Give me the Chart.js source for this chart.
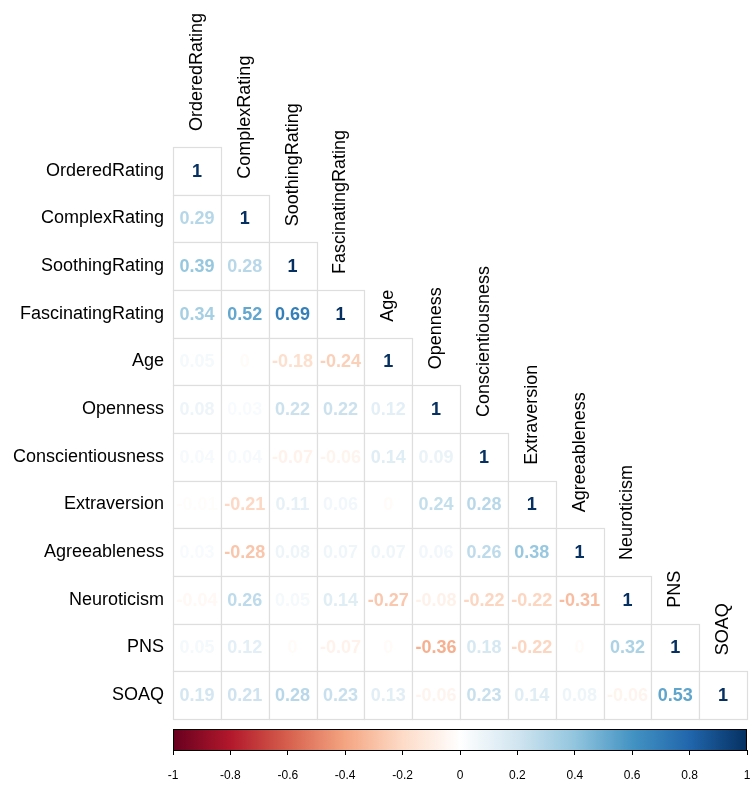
<!DOCTYPE html>
<html>
<head>
<meta charset="utf-8">
<script src="https://cdn.jsdelivr.net/npm/chart.js@4.4.0/dist/chart.umd.min.js"></script>
<style>
  html, body { margin: 0; padding: 0; background: #fff; overflow: hidden; }
  #wrap { width: 750px; height: 787px; }
  canvas { display: block; }
</style>
</head>
<body>
<div id="wrap"><canvas id="corrChart"></canvas></div>
<script>
const variables = ['OrderedRating', 'ComplexRating', 'SoothingRating', 'FascinatingRating', 'Age',
  'Openness', 'Conscientiousness', 'Extraversion', 'Agreeableness', 'Neuroticism', 'PNS', 'SOAQ'];

// lower triangle of the correlation matrix, one row per variable
const rowOrdered = [1];
const rowComplex = [0.29, 1];
const rowSoothing = [0.39, 0.28, 1];
const rowFascinating = [0.34, 0.52, 0.69, 1];
const rowAge = [0.05, 0, -0.18, -0.24, 1];
const rowOpenness = [0.08, 0.03, 0.22, 0.22, 0.12, 1];
const rowConscientiousness = [0.04, 0.04, -0.07, -0.06, 0.14, 0.09, 1];
const rowExtraversion = [-0.01, -0.21, 0.11, 0.06, 0, 0.24, 0.28, 1];
const rowAgreeableness = [0.03, -0.28, 0.08, 0.07, 0.07, 0.06, 0.26, 0.38, 1];
const rowNeuroticism = [-0.04, 0.26, 0.05, 0.14, -0.27, -0.08, -0.22, -0.22, -0.31, 1];
const rowPNS = [0.05, 0.12, 0, -0.07, 0, -0.36, 0.18, -0.22, 0, 0.32, 1];
const rowSOAQ = [0.19, 0.21, 0.28, 0.23, 0.13, -0.06, 0.23, 0.14, 0.08, -0.06, 0.53, 1];

const colorTicks = [-1, -0.8, -0.6, -0.4, -0.2, 0, 0.2, 0.4, 0.6, 0.8, 1];

const corrRows = [rowOrdered, rowComplex, rowSoothing, rowFascinating, rowAge, rowOpenness,
  rowConscientiousness, rowExtraversion, rowAgreeableness, rowNeuroticism, rowPNS, rowSOAQ];

// RdBu palette (corrplot)
const palette = ['#67001F', '#B2182B', '#D6604D', '#F4A582', '#FDDBC7', '#FFFFFF',
  '#D1E5F0', '#92C5DE', '#4393C3', '#2166AC', '#053061'];

function hexToRgb(h) {
  return [parseInt(h.substr(1, 2), 16), parseInt(h.substr(3, 2), 16), parseInt(h.substr(5, 2), 16)];
}

function corrColor(v) {
  if (v === 0) v = -0.025; // zero falls in the faint warm bin
  const t = (v + 1) / 2 * (palette.length - 1);
  const i = Math.min(Math.floor(t), palette.length - 2);
  const f = t - i;
  const a = hexToRgb(palette[i]), b = hexToRgb(palette[i + 1]);
  const c = a.map((x, k) => Math.round(x + (b[k] - x) * f));
  return 'rgb(' + c.join(',') + ')';
}

const cellData = [];
corrRows.forEach((row, i) => {
  row.forEach((v, j) => cellData.push({ x: j, y: i, v: v }));
});

const corrPlugin = {
  id: 'corrCells',
  afterDatasetsDraw(chart) {
    const { ctx, chartArea } = chart;
    const xs = chart.scales.x, ys = chart.scales.y, cb = chart.scales.cb;
    ctx.save();

    // cells
    cellData.forEach(d => {
      const x0 = Math.round(xs.getPixelForValue(d.x - 0.5));
      const x1 = Math.round(xs.getPixelForValue(d.x + 0.5));
      const y0 = Math.round(ys.getPixelForValue(d.y - 0.5));
      const y1 = Math.round(ys.getPixelForValue(d.y + 0.5));
      ctx.fillStyle = '#fff';
      ctx.fillRect(x0, y0, x1 - x0, y1 - y0);
      ctx.strokeStyle = '#dedede';
      ctx.lineWidth = 1.2;
      ctx.strokeRect(x0 + 0.5, y0 + 0.5, x1 - x0, y1 - y0);
    });
    cellData.forEach(d => {
      ctx.fillStyle = corrColor(d.v);
      ctx.font = 'bold 18px "Liberation Sans", Arial, sans-serif';
      ctx.textAlign = 'center';
      ctx.textBaseline = 'middle';
      ctx.fillText(String(d.v), xs.getPixelForValue(d.x), ys.getPixelForValue(d.y) + 1);
    });

    // row and column labels
    ctx.fillStyle = '#000';
    ctx.font = '18px "Liberation Sans", Arial, sans-serif';
    variables.forEach((name, i) => {
      ctx.textAlign = 'right';
      ctx.textBaseline = 'middle';
      ctx.fillText(name, chartArea.left - 9, ys.getPixelForValue(i));
      ctx.save();
      ctx.translate(xs.getPixelForValue(i), ys.getPixelForValue(i - 0.5) - 16);
      ctx.rotate(-Math.PI / 2);
      ctx.textAlign = 'left';
      ctx.textBaseline = 'middle';
      ctx.fillText(name, 0, 0);
      ctx.restore();
    });

    // colour bar
    const bx0 = cb.getPixelForValue(-1), bx1 = cb.getPixelForValue(1);
    const by0 = Math.round(ys.getPixelForValue(11.5)) + 10, by1 = chartArea.bottom;
    const grad = ctx.createLinearGradient(bx0, 0, bx1, 0);
    palette.forEach((c, k) => grad.addColorStop(k / (palette.length - 1), c));
    ctx.fillStyle = grad;
    ctx.fillRect(bx0, by0, bx1 - bx0, by1 - by0);
    ctx.strokeStyle = '#000';
    ctx.lineWidth = 1;
    ctx.strokeRect(bx0 + 0.5, by0 + 0.5, bx1 - bx0 - 1, by1 - by0);
    ctx.restore();
  }
};

new Chart(document.getElementById('corrChart'), {
  type: 'scatter',
  data: {
    datasets: [{
      data: cellData,
      pointRadius: 0,
      pointHoverRadius: 0
    }]
  },
  options: {
    responsive: true,
    maintainAspectRatio: false,
    animation: false,
    devicePixelRatio: 1,
    layout: { padding: { left: 173, right: 3, top: 147, bottom: 3 } },
    plugins: { legend: { display: false }, tooltip: { enabled: false } },
    scales: {
      x: { type: 'linear', min: -0.5, max: 11.5, display: false },
      y: { type: 'linear', reverse: true, min: -0.5, max: 12.15, display: false },
      cb: {
        type: 'linear',
        axis: 'x',
        position: 'bottom',
        min: -1,
        max: 1,
        afterBuildTicks: s => { s.ticks = colorTicks.map(v => ({ value: v })); },
        afterFit: s => { s.height = 34; s.paddingLeft = 0; s.paddingRight = 0; },
        ticks: {
          callback: v => String(Math.round(v * 10) / 10),
          color: '#000',
          font: { family: '"Liberation Sans", Arial, sans-serif', size: 12 },
          padding: 13,
          maxRotation: 0,
          autoSkip: false
        },
        grid: { drawOnChartArea: false, tickLength: 5, color: '#000', lineWidth: 1 },
        border: { display: false }
      }
    }
  },
  plugins: [corrPlugin]
});
</script>
</body>
</html>
